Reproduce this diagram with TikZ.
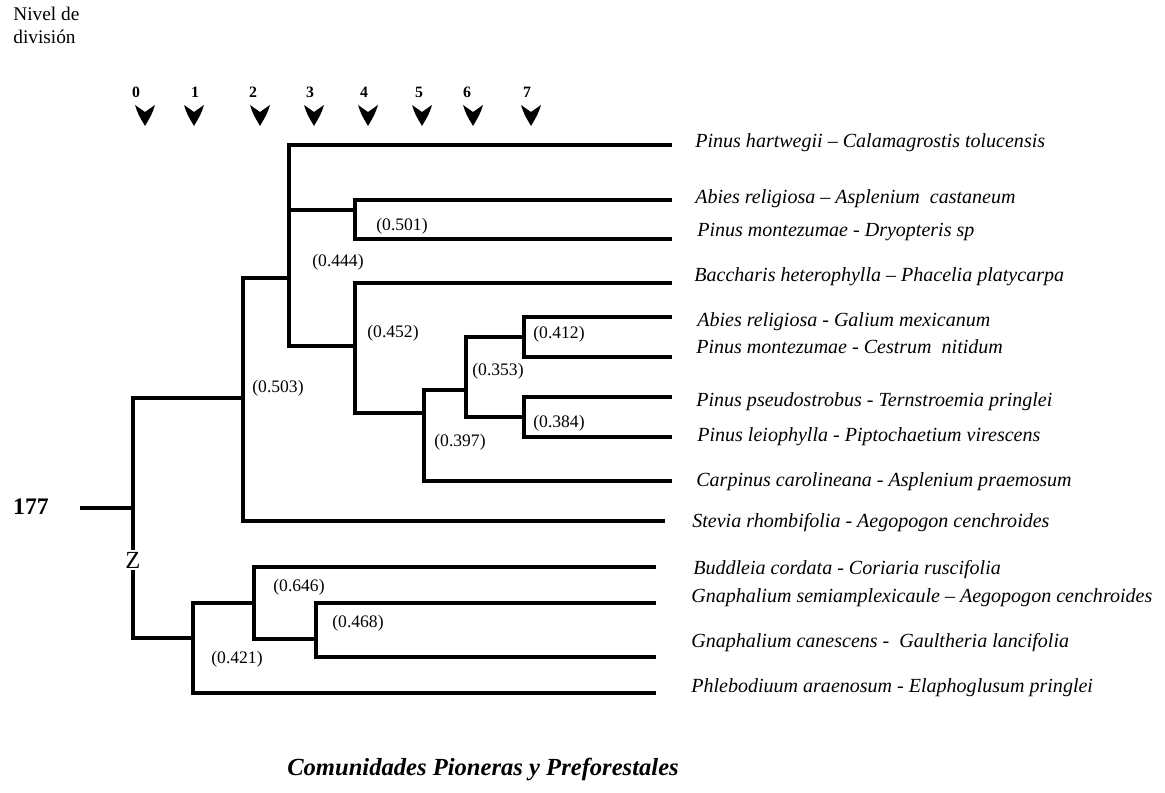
\documentclass[tikz,border=0pt]{standalone}
\usepackage{fontspec}
\setmainfont{Liberation Serif}
\tikzset{
  branch/.style={line width=1.9pt},
  species/.style={anchor=west, inner sep=0pt, font=\fontsize{11.4}{13}\selectfont\itshape},
  simval/.style={inner sep=0pt, font=\fontsize{10}{12}\selectfont},
  levelnum/.style={inner sep=0pt, font=\fontsize{9}{11}\selectfont\bfseries},
  levelmark/.style={fill=black}
}

\begin{document}
\begin{tikzpicture}[x=0.02cm, y=-0.02cm]
\useasboundingbox (0,0) rectangle (1165,793);

\node[anchor=north west, align=left, inner sep=0pt, font=\fontsize{11}{12.9}\selectfont] (nivel) at (13,7) {Nivel de\\división};

\foreach \lv/\nx/\ax in {0/136/145, 1/195/194, 2/253/260, 3/310/314, 4/364/368, 5/419/422, 6/467/473, 7/527/531} {
  \node[levelnum] (lv\lv) at (\nx,92) {\lv};
  \fill[levelmark] (\ax-10,105) -- (\ax,112) -- (\ax+10,105)
    .. controls (\ax+7,114) .. (\ax,126) .. controls (\ax-7,114) .. cycle;
}

\node[font=\fontsize{13.5}{15}\selectfont\bfseries, inner sep=0pt] (total) at (31,507) {177};
\node[font=\fontsize{14}{16}\selectfont, inner sep=1pt] (z) at (133,560) {Z};
\coordinate (stub) at (80,508);
\coordinate (root) at (133,508);

\coordinate (j503) at (243,398);
\coordinate (j444) at (289,278);
\coordinate (j501) at (355,210);
\coordinate (j452) at (355,346);
\coordinate (j397) at (424,413);
\coordinate (j353) at (466,390);
\coordinate (j412) at (524,337);
\coordinate (j384) at (524,417);
\coordinate (j421) at (193,638);
\coordinate (j646) at (254,603);
\coordinate (j468) at (316,639);

\coordinate (e1) at (672,145);
\coordinate (e2) at (672,200);
\coordinate (e3) at (672,239);
\coordinate (e4) at (672,283);
\coordinate (e5) at (672,317);
\coordinate (e6) at (672,357);
\coordinate (e7) at (672,397);
\coordinate (e8) at (672,437);
\coordinate (e9) at (672,481);
\coordinate (e10) at (665,521);
\coordinate (e11) at (656,567);
\coordinate (e12) at (656,603);
\coordinate (e13) at (656,657);
\coordinate (e14) at (656,693);

\draw[branch] (stub) -- (root);
\draw[branch] (j503) -| (z.north);
\draw[branch] (z.south) |- (j421);
\draw[branch] (j444) -| (j503) |- (e10);
\draw[branch] (e1) -| (j444) |- (j452);
\draw[branch] (j444 |- j501) -- (j501);
\draw[branch] (e2) -| (j501) |- (e3);
\draw[branch] (e4) -| (j452) |- (j397);
\draw[branch] (j353) -| (j397) |- (e9);
\draw[branch] (j412) -| (j353) |- (j384);
\draw[branch] (e5) -| (j412) |- (e6);
\draw[branch] (e7) -| (j384) |- (e8);
\draw[branch] (j646) -| (j421) |- (e14);
\draw[branch] (e11) -| (j646) |- (j468);
\draw[branch] (e12) -| (j468) |- (e13);

\node[simval] (s503) at (278,388) {(0.503)};
\node[simval] (s444) at (338,262) {(0.444)};
\node[simval] (s501) at (402,226) {(0.501)};
\node[simval] (s452) at (393,333) {(0.452)};
\node[simval] (s397) at (460,442) {(0.397)};
\node[simval] (s353) at (498,371) {(0.353)};
\node[simval] (s412) at (559,334) {(0.412)};
\node[simval] (s384) at (559,423) {(0.384)};
\node[simval] (s421) at (237,659) {(0.421)};
\node[simval] (s646) at (299,587) {(0.646)};
\node[simval] (s468) at (358,623) {(0.468)};

\node[species] (l1) at (695,143) {Pinus hartwegii – Calamagrostis tolucensis};
\node[species] (l2) at (695,199) {Abies religiosa – Asplenium\ \ castaneum};
\node[species] (l3) at (697,232) {Pinus montezumae - Dryopteris sp};
\node[species] (l4) at (694,277) {Baccharis heterophylla – Phacelia platycarpa};
\node[species] (l5) at (697,322) {Abies religiosa - Galium mexicanum};
\node[species] (l6) at (696,347) {Pinus montezumae - Cestrum\ \ nitidum};
\node[species] (l7) at (696,402) {Pinus pseudostrobus - Ternstroemia pringlei};
\node[species] (l8) at (697,437) {Pinus leiophylla - Piptochaetium virescens};
\node[species] (l9) at (696,482) {Carpinus carolineana - Asplenium praemosum};
\node[species] (l10) at (692,523) {Stevia rhombifolia - Aegopogon cenchroides};
\node[species] (l11) at (693,570) {Buddleia cordata - Coriaria ruscifolia};
\node[species] (l12) at (691,598) {Gnaphalium semiamplexicaule – Aegopogon cenchroides};
\node[species] (l13) at (691,643) {Gnaphalium canescens -\ \ Gaultheria lancifolia};
\node[species] (l14) at (691,688) {Phlebodiuum araenosum - Elaphoglusum pringlei};

\node[font=\fontsize{14}{16}\selectfont\bfseries\itshape, inner sep=0pt] (title) at (483,769) {Comunidades Pioneras y Preforestales};
\end{tikzpicture}
\end{document}
